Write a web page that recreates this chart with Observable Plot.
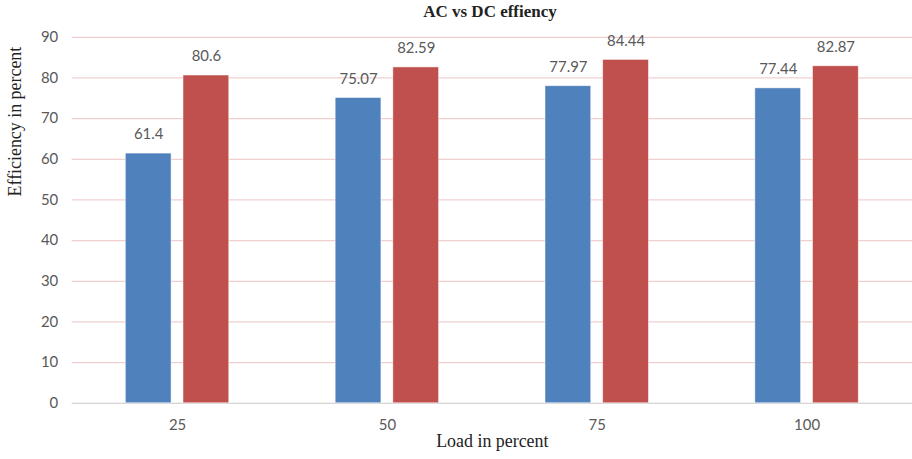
<!DOCTYPE html>
<html>
<head>
<meta charset="utf-8">
<script src="https://cdn.jsdelivr.net/npm/d3@7"></script>
<script src="https://cdn.jsdelivr.net/npm/@observablehq/plot@0.6"></script>
<style>
  html, body { margin: 0; padding: 0; background: #fff; overflow: hidden; width: 912px; height: 459px; }
  #wrap { position: relative; width: 912px; height: 459px; }
  #back, #front { position: absolute; top: 0; left: 0; }
  #title { position: absolute; top: 2px; left: 0; width: 980px; text-align: center;
           font: bold 17px "Liberation Serif", "Times New Roman", serif; color: #222; }
</style>
</head>
<body>
<div id="wrap">
  <div id="back"></div>
  <div id="front"></div>
  <div id="title">AC vs DC effiency</div>
</div>
<script>
const loads = ["25", "50", "75", "100"];
const series = ["AC", "DC"];
const acValues = [61.4, 75.07, 77.97, 77.44];
const dcValues = [80.6, 82.59, 84.44, 82.87];
const yTicks = [0, 10, 20, 30, 40, 50, 60, 70, 80, 90];
const colors = ["#4F81BD", "#C0504D"];

const data = [];
loads.forEach((l, i) => {
  data.push({load: l, series: "AC", value: acValues[i]});
  data.push({load: l, series: "DC", value: dcValues[i]});
});

const sansFont = "Lato, 'Open Sans', sans-serif";
const serifFont = "'Liberation Serif', 'Times New Roman', serif";

const common = {
  width: 917,
  height: 459,
  marginLeft: 72,
  marginRight: 0,
  marginTop: 37,
  marginBottom: 54,
};

// Background: grid, y axis, axis titles
const back = Plot.plot({
  ...common,
  style: { fontFamily: sansFont, fontSize: "15px", color: "#595959", background: "#fff", overflow: "visible" },
  x: { domain: [0, 1], axis: null },
  y: { domain: [0, 90], ticks: yTicks, label: null, tickSize: 0, tickPadding: 14 },
  marks: [
    Plot.gridY(yTicks.filter(d => d > 0), { stroke: "#F2CFCF", strokeOpacity: 1, strokeWidth: 1.2 }),
    Plot.ruleY([0], { stroke: "#C8C8C8", strokeWidth: 1.2 }),
    Plot.text(["Efficiency in percent"], { frameAnchor: "left", rotate: -90, dx: -57, dy: -24,
      fontFamily: serifFont, fontSize: 18, fill: "#222" }),
    Plot.text(["Load in percent"], { frameAnchor: "bottom", dy: 44,
      fontFamily: serifFont, fontSize: 18, fill: "#222" })
  ]
});

// Foreground: grouped bars, labels, category axis
const front = Plot.plot({
  ...common,
  style: { fontFamily: sansFont, fontSize: "15px", color: "#595959", background: "transparent", overflow: "visible" },
  fx: { domain: loads, paddingInner: 0.5, paddingOuter: 0.25, label: null, axis: "bottom", tickSize: 0, tickPadding: 16 },
  x: { domain: series, paddingInner: 0.2, paddingOuter: 0, axis: null },
  y: { domain: [0, 90], axis: null },
  color: { domain: series, range: colors },
  marks: [
    Plot.barY(data, { fx: "load", x: "series", y: "value", fill: "series", stroke: "#ffffff", strokeWidth: 0.8, strokeOpacity: 0.6 }),
    Plot.text(data, { fx: "load", x: "series", y: "value", text: d => String(d.value), dy: -19, fill: "#595959", fontSize: 15 })
  ]
});

document.getElementById("back").appendChild(back);
document.getElementById("front").appendChild(front);
</script>
</body>
</html>
